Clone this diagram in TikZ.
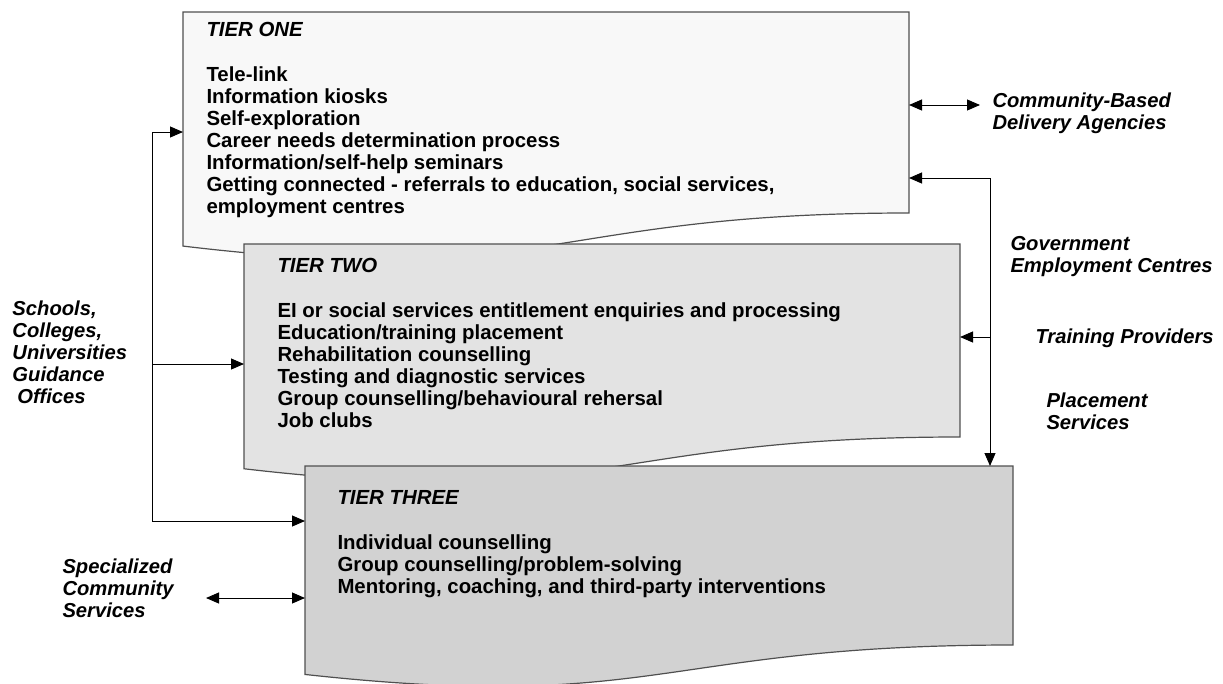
\documentclass[tikz,border=0pt]{standalone}
\usepackage{fontspec}
\setmainfont{Liberation Sans}
\usepackage{tikz}
\usetikzlibrary{arrows.meta}
\usetikzlibrary{calc}

\definecolor{tieronefill}{HTML}{F8F8F8}
\definecolor{tiertwofill}{HTML}{E3E3E3}
\definecolor{tierthreefill}{HTML}{D2D2D2}
\definecolor{tierborder}{HTML}{505050}

% outline of a tier: flat top, wavy bottom (document shape)
\newcommand{\tieroutline}[2]{%
  \filldraw[draw=tierborder, line width=1.2pt, fill=#2]
    (#1.north west) -- (#1.north east) -- (#1.south east)
    .. controls (#1.south) and ($(#1.north)!1.381!(#1.south)$)
    .. ($(#1.north west)!1.1645!(#1.south west)$) -- cycle;}

\begin{document}
\begin{tikzpicture}[x=1pt,y=-1pt,>={Triangle[length=13pt,width=11pt]},line width=1pt]
  % multi-line nodes sit on the baseline of their last line
  \tikzstyle{tier}=[rectangle, inner sep=0pt, outer sep=0pt, anchor=north west]
  \tikzstyle{tiertext}=[inner sep=0pt, anchor=base west, align=left, font=\bfseries\fontsize{20.4}{22}\selectfont]
  \tikzstyle{agency}=[inner sep=0pt, anchor=base west, align=left, font=\bfseries\itshape\fontsize{20.2}{22}\selectfont]
  \tikzstyle{link}=[draw=black, line width=1pt]

  \useasboundingbox (0,0) rectangle (1223,683);

  % the three tiers
  \node[tier, minimum width=726pt, minimum height=201pt] (one) at (183,12) {};
  \tieroutline{one}{tieronefill}
  \node[tier, minimum width=716pt, minimum height=193pt] (two) at (244,244) {};
  \tieroutline{two}{tiertwofill}
  \node[tier, minimum width=708pt, minimum height=179pt] (three) at (305,466) {};
  \tieroutline{three}{tierthreefill}

  \node[tiertext] (onetext) at (206,213) {\textit{TIER ONE}\\[23pt]
    Tele-link\\
    Information kiosks\\
    Self-exploration\\
    Career needs determination process\\
    Information/self-help seminars\\
    Getting connected - referrals to education, social services,\\
    employment centres};
  \node[tiertext] (twotext) at (277,427) {\textit{TIER TWO}\\[23pt]
    EI or social services entitlement enquiries and processing\\
    Education/training placement\\
    Rehabilitation counselling\\
    Testing and diagnostic services\\
    Group counselling/behavioural rehersal\\
    Job clubs};
  \node[tiertext] (threetext) at (337,593) {\textit{TIER THREE}\\[23pt]
    Individual counselling\\
    Group counselling/problem-solving\\
    Mentoring, coaching, and third-party interventions};

  % agencies
  \node[agency] (cbda) at (992,129) {Community-Based\\Delivery Agencies};
  \node[agency] (gec) at (1010,272) {Government\\Employment Centres};
  \node[agency] (tp) at (1035,343) {Training Providers};
  \node[agency] (ps) at (1046,429) {Placement\\Services};
  \node[agency] (sch) at (12,403) {Schools,\\Colleges,\\Universities\\Guidance\\\hspace*{5pt}Offices};
  \node[agency] (scs) at (62,617) {Specialized\\Community\\Services};

  % connectors
  \coordinate (guidtop) at (152,132);
  \coordinate (guidmid) at (152,364);
  \coordinate (guidbot) at (152,521);
  \coordinate (govtop) at (990,178);
  \coordinate (govmid) at (990,337);
  \coordinate (cbdaend) at (980,105);
  \coordinate (scsend) at (206,598);

  \draw[link,->] (guidbot) -- (guidtop) -- (one.west |- guidtop);
  \draw[link,->] (guidmid) -- (two.west |- guidmid);
  \draw[link,->] (guidbot) -- (three.west |- guidbot);
  \draw[link,->] (govtop) -- (one.east |- govtop);
  \draw[link,->] (govtop) -- (three.north -| govtop);
  \draw[link,->] (govmid) -- (two.east |- govmid);
  \draw[link,<->] (one.east |- cbdaend) -- (cbdaend);
  \draw[link,<->] (scsend) -- (three.west |- scsend);
\end{tikzpicture}
\end{document}
